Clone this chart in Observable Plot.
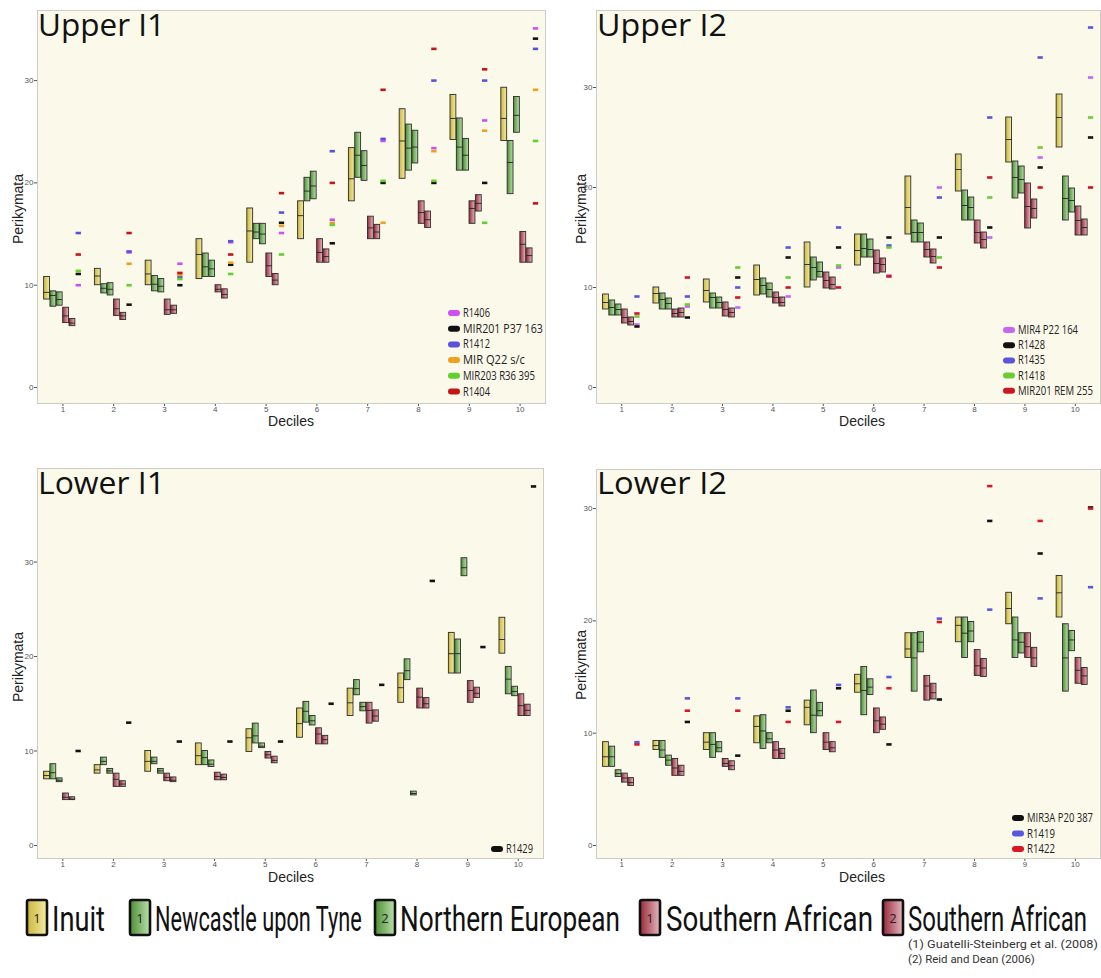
<!DOCTYPE html>
<html><head><meta charset="utf-8">
<script src="https://cdn.jsdelivr.net/npm/d3@7"></script>
<script src="https://cdn.jsdelivr.net/npm/@observablehq/plot@0.6"></script>
<style>
body{margin:0;background:#fff;}
#root{position:relative;width:1101px;height:978px;overflow:hidden;background:#fff;}
#root > svg{position:absolute;}
</style></head><body><div id="root"></div>
<script>
// ---------------- DATA ----------------
const deciles = [1,2,3,4,5,6,7,8,9,10];
const groupNames = ["Inuit","Newcastle upon Tyne","Northern European","Southern African","Southern African"];
const groupRefs = ["1","1","2","1","2"];
const references = ["(1) Guatelli-Steinberg et al. (2008)","(2) Reid and Dean (2006)"];

// box values per decile: [low, median, high]
const upperI1_inuit = [[8.6,9.3,10.8],[10.0,10.9,11.6],[10.0,11.1,12.4],[10.6,13.0,14.5],[12.2,15.3,17.5],[14.5,16.8,18.2],[18.2,20.4,23.4],[20.4,24.1,27.2],[24.2,26.3,28.6],[24.1,26.3,29.3]];
const upperI1_newcastle = [[7.9,9.0,9.4],[9.2,9.7,10.1],[9.4,10.1,10.9],[10.8,11.8,13.1],[14.5,15.2,16.0],[18.2,19.2,20.5],[20.5,22.7,24.9],[21.2,23.4,25.7],[21.2,23.5,26.3],[18.9,22.0,24.1]];
const upperI1_northEur = [[8.0,8.6,9.3],[9.0,9.6,10.2],[9.3,9.9,10.6],[10.8,11.6,12.4],[14.0,15.0,16.0],[18.4,19.7,21.1],[20.2,21.7,23.1],[21.9,23.5,25.1],[21.2,22.7,24.3],[24.9,26.6,28.4]];
const upperI1_sAfr1 = [[6.3,7.0,7.8],[7.0,7.7,8.6],[7.1,7.6,8.6],[9.3,9.6,10.0],[10.8,11.9,13.1],[12.2,13.2,14.5],[14.5,15.6,16.7],[16.0,17.1,18.2],[16.0,17.5,18.2],[12.2,14.0,15.2]];
const upperI1_sAfr2 = [[6.0,6.3,6.7],[6.6,7.0,7.3],[7.2,7.6,8.0],[8.7,9.1,9.6],[10.0,10.5,11.1],[12.2,12.8,13.5],[14.5,15.2,15.9],[15.6,16.4,17.2],[17.2,18.0,18.8],[12.2,12.9,13.6]];

const upperI2_inuit = [[7.8,8.5,9.3],[8.4,9.4,10.0],[8.5,9.7,10.8],[9.2,10.8,12.2],[10.0,12.3,14.5],[12.2,13.7,15.3],[15.3,18.0,21.1],[19.6,21.8,23.3],[22.5,24.8,27.0],[24.0,27.0,29.3]];
const upperI2_newcastle = [[7.2,8.0,8.7],[7.8,8.8,9.4],[7.9,9.0,9.4],[9.3,10.2,10.9],[10.7,12.0,13.0],[13.0,13.9,15.3],[14.5,15.5,16.7],[16.7,18.2,19.7],[18.9,21.0,22.6],[16.7,18.9,21.1]];
const upperI2_northEur = [[7.2,7.8,8.3],[7.8,8.4,8.9],[7.9,8.5,9.0],[9.0,9.8,10.4],[11.0,11.6,12.5],[13.0,13.8,14.8],[14.5,15.5,16.4],[16.7,18.0,19.0],[19.4,20.8,22.1],[17.5,18.7,19.9]];
const upperI2_sAfr1 = [[6.4,7.0,7.8],[7.0,7.4,7.8],[7.1,7.8,8.5],[8.4,9.0,9.5],[9.9,10.7,11.5],[11.4,12.4,13.7],[13.0,13.8,14.5],[14.4,15.5,16.7],[15.9,18.1,20.4],[15.2,16.7,18.1]];
const upperI2_sAfr2 = [[6.2,6.6,7.0],[7.0,7.5,7.9],[7.0,7.5,7.9],[8.1,8.5,9.0],[9.8,10.3,11.0],[11.5,12.3,12.9],[12.4,13.1,13.8],[13.9,14.8,15.5],[16.9,17.9,18.8],[15.2,16.0,16.8]];

const lowerI1_inuit = [[7.0,7.4,7.8],[7.6,8.0,8.5],[7.8,8.9,10.0],[8.5,9.5,10.8],[9.9,11.4,12.3],[11.4,12.9,14.5],[13.7,15.1,16.6],[15.1,16.7,18.2],[18.2,20.3,22.5],[20.3,21.8,24.1]];
const lowerI1_newcastle = [[7.0,7.7,8.6],[8.5,8.9,9.3],[8.6,8.9,9.3],[8.5,9.3,10.0],[10.8,11.6,12.9],[13.0,14.2,15.2],[15.9,16.6,17.5],[17.5,18.5,19.7],[18.2,20.3,21.8],[16.0,17.6,18.9]];
const lowerI1_northEur = [[6.7,6.9,7.1],[7.6,7.9,8.1],[7.6,7.9,8.1],[8.3,8.6,9.0],[10.3,10.5,10.8],[12.7,13.2,13.7],[14.2,14.7,15.1],[5.3,5.5,5.7],[28.5,29.4,30.4],[15.8,16.3,16.8]];
const lowerI1_sAfr1 = [[4.8,5.1,5.5],[6.2,7.0,7.6],[6.8,7.2,7.6],[6.9,7.3,7.7],[9.2,9.6,9.9],[10.7,11.8,12.4],[12.9,14.3,15.1],[14.5,15.7,16.6],[15.1,16.4,17.4],[13.7,14.8,16.0]];
const lowerI1_sAfr2 = [[4.8,4.9,5.1],[6.2,6.5,6.8],[6.7,6.9,7.2],[6.9,7.2,7.5],[8.7,9.0,9.4],[10.7,11.2,11.6],[13.1,13.7,14.3],[14.5,15.0,15.6],[15.6,16.1,16.7],[13.7,14.3,14.9]];

const lowerI2_inuit = [[7.0,7.9,9.2],[8.5,8.9,9.3],[8.5,9.2,10.0],[9.1,10.6,11.5],[10.7,12.3,12.9],[13.6,14.4,15.2],[16.7,17.5,18.9],[18.1,19.6,20.3],[19.7,21.1,22.5],[20.3,22.5,24.0]];
const lowerI2_newcastle = [[7.0,7.9,8.8],[7.8,8.5,9.3],[7.8,9.0,10.0],[8.6,10.2,11.6],[10.0,11.6,13.8],[11.6,13.8,15.9],[13.7,16.7,18.9],[16.7,18.9,20.3],[16.7,18.3,20.3],[13.7,16.7,19.7]];
const lowerI2_northEur = [[6.1,6.4,6.7],[7.1,7.6,8.0],[8.3,8.7,9.2],[9.1,9.5,10.0],[11.5,12.0,12.7],[13.4,14.1,14.8],[17.2,18.1,19.0],[18.1,19.1,19.9],[17.1,18.1,18.9],[17.3,18.3,19.1]];
const lowerI2_sAfr1 = [[5.6,6.0,6.4],[6.2,6.9,7.7],[7.0,7.3,7.7],[7.7,8.5,9.2],[8.5,9.2,10.0],[10.0,11.1,12.2],[12.9,14.2,15.1],[15.1,16.0,17.4],[16.7,17.7,18.9],[14.4,15.6,16.7]];
const lowerI2_sAfr2 = [[5.3,5.6,6.0],[6.2,6.6,7.1],[6.7,7.1,7.5],[7.7,8.2,8.6],[8.3,8.7,9.2],[10.3,10.8,11.4],[13.0,13.6,14.4],[15.0,15.8,16.6],[15.9,16.7,17.6],[14.3,15.1,15.8]];

// individual specimens (values per decile)
const upperI1_specNames = ["R1406","MIR201 P37 163","R1412","MIR Q22 s/c","MIR203 R36 395","R1404"];
const upperI1_specValues = [
  [10.0,13.2,12.1,14.2,15.1,16.4,24.1,23.4,26.1,35.1],
  [11.1,8.1,10.0,12.0,16.1,14.1,20.0,20.0,20.0,34.1],
  [15.1,13.3,10.8,14.3,17.1,23.1,24.3,30.0,30.0,33.1],
  [null,12.1,11.0,12.2,15.8,16.1,16.1,23.1,25.1,29.1],
  [11.4,10.0,10.6,11.1,13.0,15.9,20.2,20.2,16.1,24.1],
  [13.0,15.1,11.2,13.0,19.0,20.0,29.1,33.1,31.1,18.0]
];
const upperI2_specNames = ["MIR4 P22 164","R1428","R1435","R1418","MIR201 REM 255"];
const upperI2_specValues = [
  [6.3,8.1,8.0,9.1,12.0,11.2,20.0,15.0,23.0,31.0],
  [6.1,7.0,11.0,13.0,14.0,15.0,15.0,16.0,22.0,25.0],
  [9.1,9.1,10.0,14.0,16.0,14.2,19.0,27.0,33.0,36.0],
  [7.1,8.3,12.0,11.0,12.2,14.0,13.0,19.0,24.0,27.0],
  [7.4,11.0,9.0,10.0,10.0,11.1,12.0,21.0,20.0,20.0]
];
const lowerI1_specNames = ["R1429"];
const lowerI1_specValues = [
  [10.0,13.0,11.0,11.0,11.0,15.0,17.0,28.0,21.0,38.0]
];
const lowerI2_specNames = ["MIR3A P20 387","R1419","R1422"];
const lowerI2_specValues = [
  [null,11.0,8.0,12.0,14.0,9.0,13.0,28.9,26.0,30.1],
  [9.2,13.1,13.1,12.3,14.3,15.0,20.2,21.0,22.0,23.0],
  [9.0,12.0,12.0,11.0,11.0,14.0,19.9,32.0,28.9,30.0]
];
const yTicks = [0,10,20,30];

// ---------------- STYLE ----------------
const BG = "#fbf9ea";
const boxFills = ["url(#gY)","url(#gG)","url(#gG)","url(#gR)","url(#gR)"];
const specColors = {
  "R1406":"#cf4ff0","MIR201 P37 163":"#111111","R1412":"#5a52dc","MIR Q22 s/c":"#f0a020","MIR203 R36 395":"#5fd02c","R1404":"#c41414",
  "MIR4 P22 164":"#c865ee","R1428":"#111111","R1435":"#5a55dc","R1418":"#6ccc38","MIR201 REM 255":"#cc1622",
  "R1429":"#111111",
  "MIR3A P20 387":"#111111","R1419":"#5a58e0","R1422":"#dd1424"
};

const root = document.getElementById("root");
const W = 1/8; // slot width in decile units

function makePanel(cfg) {
  const boxData = [];
  cfg.boxes.forEach((arr, k) => arr.forEach((t, i) => {
    if (t) boxData.push({decile: deciles[i], k, lo: t[0], med: t[1], hi: t[2], fill: boxFills[k]});
  }));
  const specData = [];
  cfg.specNames.forEach((name, s) => cfg.specValues[s].forEach((v, i) => {
    if (v != null) specData.push({decile: deciles[i], name, v, color: specColors[name]});
  }));
  const svg = Plot.plot({
    width: cfg.width, height: cfg.height,
    marginTop: cfg.m[0], marginRight: cfg.m[1], marginBottom: cfg.m[2], marginLeft: cfg.m[3],
    x: {domain: [0.5, 10.5], ticks: deciles, tickSize: 3, tickPadding: 0, label: null},
    y: {domain: cfg.yDomain, ticks: yTicks, tickSize: 3, tickPadding: 1, label: null},
    color: {type: "identity"},
    style: {fontSize: "8px", color: "#555", fontFamily: "'Liberation Sans', Arial, sans-serif", background: "transparent"},
    marks: [
      Plot.frame({fill: BG, stroke: "#cdcdc6"}),
      Plot.rect(boxData, {
        x1: d => d.decile + (d.k - 3) * W + 0.04 * W,
        x2: d => d.decile + (d.k - 2) * W - 0.04 * W,
        y1: "lo", y2: "hi", fill: "fill", stroke: "#2b2b2b", strokeWidth: 0.9
      }),
      Plot.ruleY(boxData, {
        y: "med",
        x1: d => d.decile + (d.k - 3) * W + 0.04 * W,
        x2: d => d.decile + (d.k - 2) * W - 0.04 * W,
        stroke: "#222", strokeWidth: 0.9
      }),
      Plot.ruleY(specData, {
        y: "v",
        x1: d => d.decile + 2 * W + 0.08 * W,
        x2: d => d.decile + 3 * W - 0.08 * W,
        stroke: "color", strokeWidth: 2.6
      })
    ]
  });
  svg.style.left = cfg.left + "px";
  svg.style.top = cfg.top + "px";
  root.appendChild(svg);
}

makePanel({left: 0, top: 0, width: 560, height: 440, m: [10, 15, 37, 37], yDomain: [-1.56, 36.85],
  boxes: [upperI1_inuit, upperI1_newcastle, upperI1_northEur, upperI1_sAfr1, upperI1_sAfr2],
  specNames: upperI1_specNames, specValues: upperI1_specValues});
makePanel({left: 560, top: 0, width: 541, height: 440, m: [10, 1, 37, 36], yDomain: [-1.6, 37.7],
  boxes: [upperI2_inuit, upperI2_newcastle, upperI2_northEur, upperI2_sAfr1, upperI2_sAfr2],
  specNames: upperI2_specNames, specValues: upperI2_specValues});
makePanel({left: 0, top: 440, width: 560, height: 460, m: [28, 17, 42, 37], yDomain: [-1.38, 39.9],
  boxes: [lowerI1_inuit, lowerI1_newcastle, lowerI1_northEur, lowerI1_sAfr1, lowerI1_sAfr2],
  specNames: lowerI1_specNames, specValues: lowerI1_specValues});
makePanel({left: 560, top: 440, width: 541, height: 460, m: [29, 1, 42, 36], yDomain: [-1.16, 33.48],
  boxes: [lowerI2_inuit, lowerI2_newcastle, lowerI2_northEur, lowerI2_sAfr1, lowerI2_sAfr2],
  specNames: lowerI2_specNames, specValues: lowerI2_specValues});

// ---------------- OVERLAY (titles, labels, legends) ----------------
const ov = d3.select(root).append("svg").attr("width", 1101).attr("height", 978)
  .style("left", "0px").style("top", "0px").style("pointer-events", "none");
const defs = ov.append("defs");
[["gY","#cbb73a","#f3eba6"],["gG","#4c8f34","#bde0ae"],["gR","#982a3c","#e6b8be"]].forEach(([id,a,b]) => {
  const g = defs.append("linearGradient").attr("id", id).attr("x1", 0).attr("x2", 1).attr("y1", 0).attr("y2", 0);
  g.append("stop").attr("offset", 0).attr("stop-color", a);
  g.append("stop").attr("offset", 1).attr("stop-color", b);
});
const LEGFONT = "'Open Sans', 'Noto Sans', sans-serif";
const BIGFONT = "Roboto, 'Open Sans', sans-serif";
function text(str, x, y, o = {}) {
  const t = ov.append("text").text(str)
    .attr("font-family", o.font || LEGFONT).attr("font-size", o.size || 12)
    .attr("fill", o.fill || "#111");
  if (o.anchor) t.attr("text-anchor", o.anchor);
  if (o.len) {
    const w = t.node().getComputedTextLength();
    t.attr("x", 0).attr("y", 0).attr("transform", `translate(${x},${y}) scale(${(o.len / w).toFixed(4)},1)`);
  } else if (o.rotate) {
    t.attr("x", 0).attr("y", 0).attr("transform", `translate(${x},${y}) rotate(-90)`);
  } else {
    t.attr("x", x).attr("y", y);
  }
  return t;
}
// panel titles
text("Upper I1", 38, 36, {size: 31, len: 127});
text("Upper I2", 597, 36, {size: 31, len: 130});
text("Lower I1", 38, 494, {size: 31, len: 127});
text("Lower I2", 597, 494, {size: 31, len: 130});
// axis labels
const AX = "'Liberation Sans', Arial, sans-serif";
[[23,209],[586,209],[23,667],[586,665]].forEach(([x,y]) =>
  text("Perikymata", x, y, {font: AX, size: 14, anchor: "middle", rotate: true, fill: "#222"}));
[[291,426],[862,426],[291,882],[862,882]].forEach(([x,y]) =>
  text("Deciles", x, y, {font: AX, size: 14, anchor: "middle", fill: "#222"}));

// in-panel specimen legends
function specLegend(names, x, y0, dy, lens) {
  names.forEach((n, i) => {
    const y = y0 + i * dy;
    ov.append("rect").attr("x", x - 6).attr("y", y - 3).attr("width", 12).attr("height", 6)
      .attr("rx", 3).attr("fill", specColors[n]);
    text(n, x + 9, y + 4, {size: 12, len: lens[i], fill: "#222"});
  });
}
specLegend(upperI1_specNames, 454, 313, 15.7, [27, 80, 27, 62, 72, 27]);
specLegend(upperI2_specNames, 1009, 330, 15.2, [60, 27, 27, 27, 75]);
specLegend(lowerI1_specNames, 497, 849, 15.5, [27]);
specLegend(lowerI2_specNames, 1018, 818, 15.5, [66, 28, 28]);

// bottom group legend
const legItems = [
  {sx: 27, tx: 52, tlen: 53, grad: "gY"},
  {sx: 130, tx: 155, tlen: 207, grad: "gG"},
  {sx: 375, tx: 400, tlen: 220, grad: "gG"},
  {sx: 640, tx: 666, tlen: 207, grad: "gR"},
  {sx: 883, tx: 908, tlen: 179, grad: "gR"}
];
legItems.forEach((it, i) => {
  ov.append("rect").attr("x", it.sx).attr("y", 900).attr("width", 20).attr("height", 35).attr("rx", 2)
    .attr("fill", `url(#${it.grad})`).attr("stroke", "#111").attr("stroke-width", 2.6);
  text(groupRefs[i], it.sx + 10, 923, {size: 13, anchor: "middle", fill: "#222"});
  text(groupNames[i], it.tx, 931, {font: BIGFONT, size: 36, len: it.tlen, fill: "#111"});
});
text(references[0], 908, 948, {font: BIGFONT, size: 11.5, len: 190, fill: "#333"});
text(references[1], 908, 963, {font: BIGFONT, size: 11.5, len: 127, fill: "#333"});
</script>
</body></html>
